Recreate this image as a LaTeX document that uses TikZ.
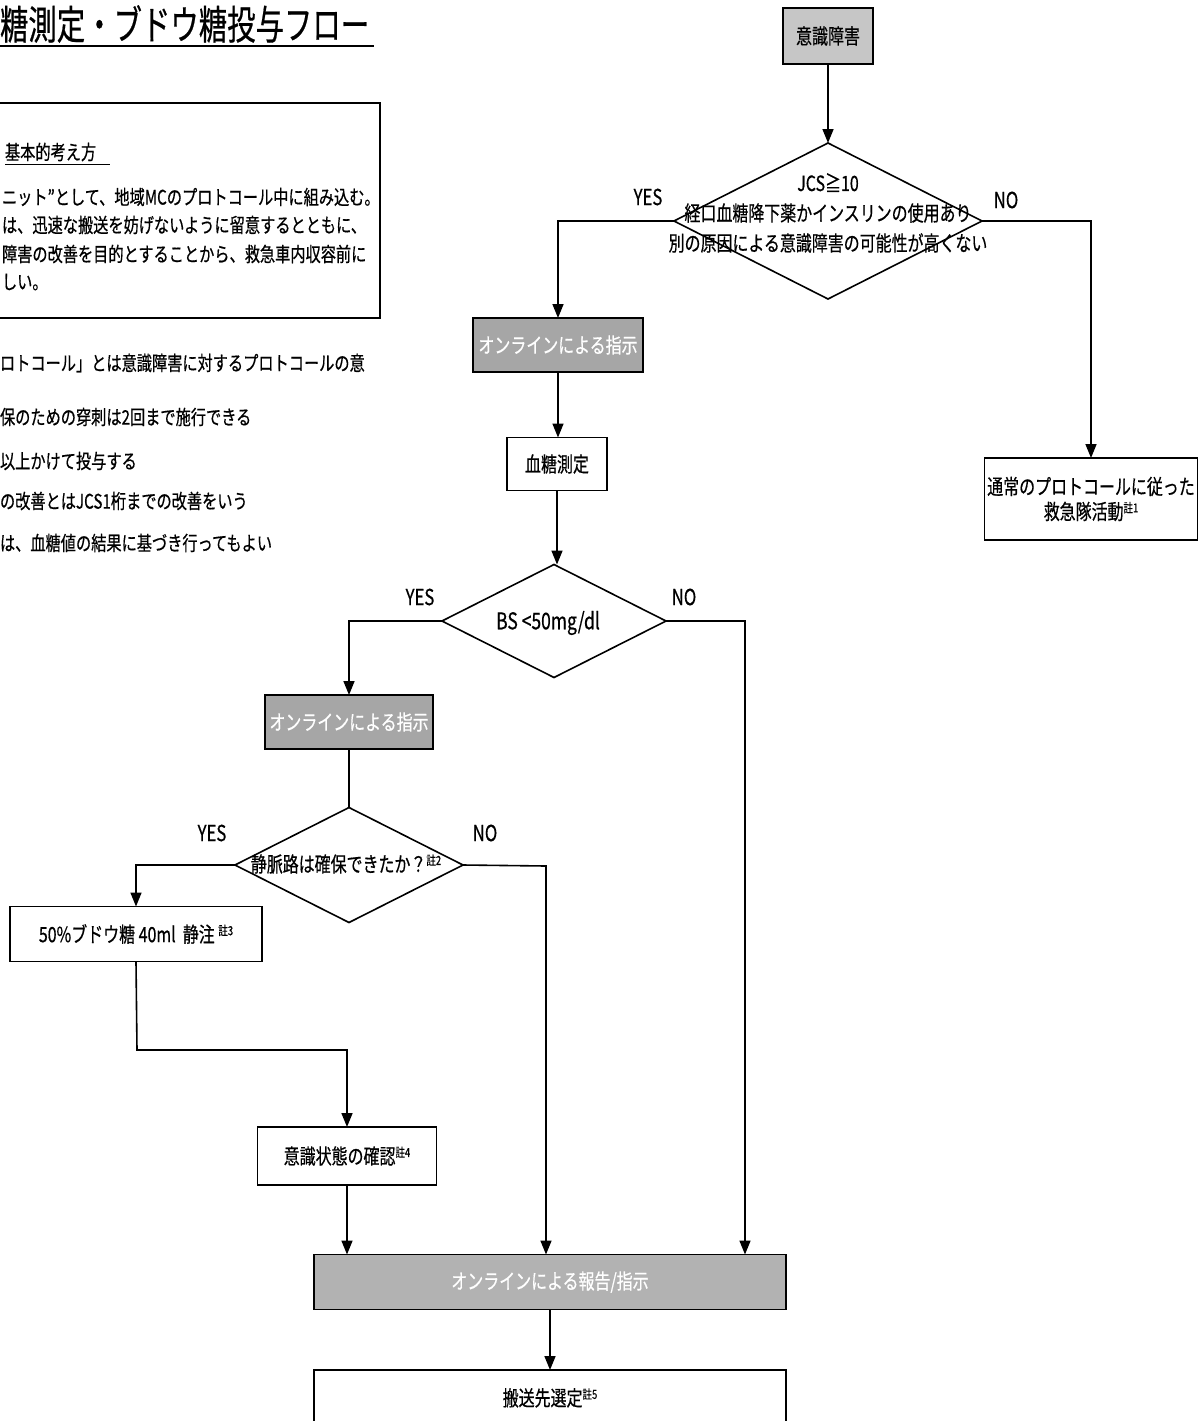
\documentclass[tikz,border=0pt]{standalone}
\usepackage{fontspec}
\usepackage{graphicx}
\usetikzlibrary{arrows.meta,shapes.geometric}
\newfontfamily\jp[FakeStretch=0.76,FakeBold=0.5]{Noto Sans CJK JP}
\newfontfamily\jpt[FakeStretch=0.71,FakeBold=0.5]{Noto Sans CJK JP}
\newcommand{\chu}[1]{{\fontsize{12.5}{13}\selectfont\raisebox{7pt}{#1}}}
\begin{document}
\begin{tikzpicture}[x=1pt,y=-1pt,
  every node/.style={inner sep=0pt, outer sep=0pt},
  box/.style={draw, line width=1.6pt, fill=white, font=\jp\fontsize{21}{25}\selectfont},
  gbox/.style={box, fill=gray!45, text=black},
  dbox/.style={box, fill=gray!70, text=white},
  rbox/.style={box, fill=gray!60, text=white},
  dia/.style={diamond, draw, line width=1.6pt, fill=white, aspect=2},
  dtext/.style={font=\jp\fontsize{21}{25}\selectfont, align=center},
  lab/.style={font=\jp\fontsize{22}{24}\selectfont},
  note/.style={anchor=west, font=\jp\fontsize{20}{22}\selectfont},
  conn/.style={line width=1.6pt},
  arr/.style={conn, -{Triangle[length=14pt,width=11pt]}}]
\useasboundingbox (0,0) rectangle (1201,1421);
\fill[white] (0,0) rectangle (1201,1421);

% title
\node[anchor=west, font=\jpt\fontsize{40}{44}\selectfont] (title) at (0,24) {糖測定・ブドウ糖投与フロー};
\draw[line width=1.6pt] (0,46) -- (374,46);

% basic concept box
\draw[line width=1.6pt] (-5,103) -- (380,103) -- (380,318) -- (-5,318);
\node[note] (bk) at (5,152) {基本的考え方};
\draw[line width=1pt] (5,164) -- (110,164);
\node[note] (b1) at (2,197) {ニット”として、地域MCのプロトコール中に組み込む。};
\node[note] (b2) at (2,225) {は、迅速な搬送を妨げないように留意するとともに、};
\node[note] (b3) at (2,254) {障害の改善を目的とすることから、救急車内収容前に};
\node[note] (b4) at (2,282) {しい。};

% notes
\node[note] (n1) at (0,363) {ロトコール」とは意識障害に対するプロトコールの意};
\node[note] (n2) at (0,417) {保のための穿刺は2回まで施行できる};
\node[note] (n3) at (0,461) {以上かけて投与する};
\node[note] (n4) at (0,501) {の改善とはJCS1桁までの改善をいう};
\node[note] (n5) at (0,543) {は、血糖値の結果に基づき行ってもよい};

% flowchart nodes
\node[gbox, minimum width=90, minimum height=56] (ishiki) at (828,36) {意識障害};
\node[dia, minimum width=308, minimum height=156] (d1) at (828,221) {};
\node[dtext] (d1t) at (828,213) {JCS≧10\\[5pt]経口血糖降下薬かインスリンの使用あり\\[5pt]別の原因による意識障害の可能性が高くない};
\node[lab] (yes1) at (648,197) {YES};
\node[lab] (no1) at (1006,200) {NO};
\node[box, minimum width=213, minimum height=82, align=center] (tsujo) at (1091,499) {通常のプロトコールに従った\\救急隊活動\chu{註1}};

\node[dbox, minimum width=170, minimum height=54] (onl1) at (558,345) {オンラインによる指示};
\node[box, minimum width=100, minimum height=53] (kettou) at (557,464) {血糖測定};
\node[dia, minimum width=224, minimum height=113] (d2) at (554,621) {};
\node[dtext, font=\jp\fontsize{23}{25}\selectfont] (d2t) at (548,623) {BS <50mg/dl};
\node[lab] (yes2) at (420,597) {YES};
\node[lab] (no2l) at (684,597) {NO};

\node[dbox, minimum width=168, minimum height=54] (onl2) at (349,722) {オンラインによる指示};
\node[dia, minimum width=228, minimum height=115] (d3) at (349,865) {};
\node[dtext] (d3t) at (346,864) {静脈路は確保できたか？\chu{註2}};
\node[lab] (yes3) at (212,833) {YES};
\node[lab] (no3l) at (485,833) {NO};

\node[box, minimum width=252, minimum height=55] (bdt) at (136,934) {50\%ブドウ糖 40ml\ \ 静注 \chu{註3}};
\node[box, minimum width=179, minimum height=58] (kakunin) at (347,1156) {意識状態の確認\chu{註4}};
\node[rbox, minimum width=472, minimum height=55] (report) at (550,1282) {オンラインによる報告/指示};
\node[box, minimum width=472, minimum height=62] (hanso) at (550,1401) {\raisebox{8pt}{搬送先選定\chu{註5}}};

% connectors
\coordinate (no2) at (745,621);
\coordinate (no3) at (546,866);
\coordinate (j1) at (137,1050);

\draw[arr] (ishiki.south) -- (d1.north);
\draw[arr] (d1.west) -| (onl1.north);
\draw[arr] (d1.east) -| (tsujo.north);
\draw[arr] (onl1.south) -- (onl1.south |- kettou.north);
\draw[arr] (kettou.south) -- (kettou.south |- d2.north);
\draw[arr] (d2.west) -| (onl2.north);
\draw[arr] (d2.east) -- (no2) -- (no2 |- report.north);
\draw[conn] (onl2.south) -- (d3.north);
\draw[arr] (d3.west) -| (bdt.north);
\draw[arr] (d3.east) -- (no3) -- (no3 |- report.north);
\draw[arr] (bdt.south) -- (j1) -| (kakunin.north);
\draw[arr] (kakunin.south) -- (kakunin.south |- report.north);
\draw[arr] (report.south) -- (hanso.north);
\end{tikzpicture}
\end{document}
